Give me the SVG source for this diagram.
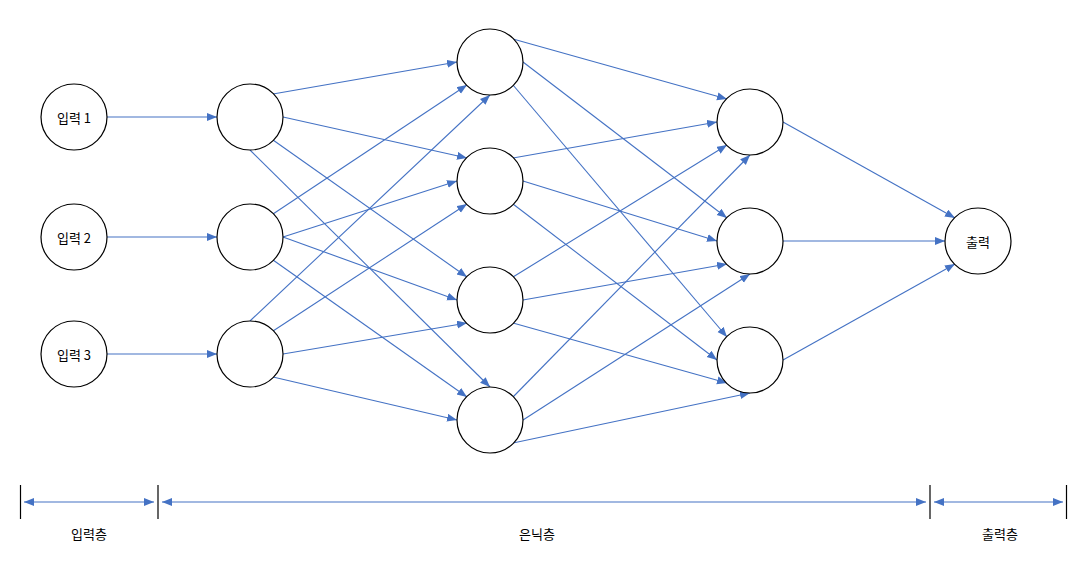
<svg xmlns="http://www.w3.org/2000/svg" width="1076" height="564" viewBox="0 0 1076 564">
<style>
.n{fill:#fff;stroke:#000;stroke-width:1.2}
.e{stroke:#4472C4;stroke-width:1.1;fill:none;marker-end:url(#ah)}
.b{stroke:#4472C4;stroke-width:1.1;fill:none;marker-end:url(#ah);marker-start:url(#ahs)}
.t{stroke:#000;stroke-width:1.2}
text{font-family:"Noto Sans CJK KR","Noto Sans",sans-serif;font-size:13px;fill:#000;text-anchor:middle;dominant-baseline:central}
</style>
<defs>
<marker id="ah" markerUnits="userSpaceOnUse" markerWidth="11" markerHeight="9" refX="10" refY="4" orient="auto"><path d="M0,0 L10,4 L0,8 z" fill="#4472C4"/></marker>
<marker id="ahs" markerUnits="userSpaceOnUse" markerWidth="11" markerHeight="9" refX="10" refY="4" orient="auto-start-reverse"><path d="M0,0 L10,4 L0,8 z" fill="#4472C4"/></marker>
</defs>
<rect width="1076" height="564" fill="#fff"/>
<g id="connectors">
<line class="e" x1="107" y1="117" x2="217" y2="117"/>
<line class="e" x1="107" y1="237" x2="217" y2="237"/>
<line class="e" x1="107" y1="354" x2="217" y2="354"/>
<line class="e" x1="273" y1="94" x2="457" y2="62"/>
<line class="e" x1="283" y1="117" x2="467" y2="158"/>
<line class="e" x1="273" y1="140" x2="467" y2="277"/>
<line class="e" x1="250" y1="150" x2="490" y2="387"/>
<line class="e" x1="273" y1="214" x2="467" y2="85"/>
<line class="e" x1="283" y1="237" x2="457" y2="181"/>
<line class="e" x1="283" y1="237" x2="457" y2="300"/>
<line class="e" x1="273" y1="260" x2="467" y2="397"/>
<line class="e" x1="250" y1="321" x2="490" y2="95"/>
<line class="e" x1="273" y1="331" x2="467" y2="204"/>
<line class="e" x1="283" y1="354" x2="467" y2="323"/>
<line class="e" x1="273" y1="377" x2="457" y2="420"/>
<line class="e" x1="513" y1="39" x2="727" y2="99"/>
<line class="e" x1="523" y1="62" x2="727" y2="218"/>
<line class="e" x1="513" y1="85" x2="727" y2="337"/>
<line class="e" x1="513" y1="158" x2="717" y2="122"/>
<line class="e" x1="523" y1="181" x2="717" y2="241"/>
<line class="e" x1="513" y1="204" x2="717" y2="360"/>
<line class="e" x1="513" y1="277" x2="727" y2="145"/>
<line class="e" x1="523" y1="300" x2="727" y2="264"/>
<line class="e" x1="513" y1="323" x2="727" y2="383"/>
<line class="e" x1="513" y1="397" x2="750" y2="155"/>
<line class="e" x1="523" y1="420" x2="750" y2="274"/>
<line class="e" x1="513" y1="443" x2="750" y2="393"/>
<line class="e" x1="783" y1="122" x2="955" y2="218"/>
<line class="e" x1="783" y1="241" x2="945" y2="241"/>
<line class="e" x1="783" y1="360" x2="955" y2="264"/>
</g>
<g id="scale">
<line class="t" x1="20.5" y1="485" x2="20.5" y2="519"/>
<line class="t" x1="158" y1="485" x2="158" y2="519"/>
<line class="t" x1="930" y1="485" x2="930" y2="519"/>
<line class="t" x1="1066.5" y1="485" x2="1066.5" y2="519"/>
<line class="b" x1="24" y1="502" x2="154" y2="502"/>
<line class="b" x1="162" y1="502" x2="926" y2="502"/>
<line class="b" x1="934" y1="502" x2="1063" y2="502"/>
<text x="89" y="533">입력층</text>
<text x="537" y="533">은닉층</text>
<text x="1000" y="533">출력층</text>
</g>
<g id="in1"><circle class="n" cx="74" cy="117" r="33"/><text x="74" y="117">입력 1</text></g>
<g id="in2"><circle class="n" cx="74" cy="237" r="33"/><text x="74" y="237">입력 2</text></g>
<g id="in3"><circle class="n" cx="74" cy="354" r="33"/><text x="74" y="354">입력 3</text></g>
<g id="h1a"><circle class="n" cx="250" cy="117" r="33"/></g>
<g id="h1b"><circle class="n" cx="250" cy="237" r="33"/></g>
<g id="h1c"><circle class="n" cx="250" cy="354" r="33"/></g>
<g id="h2a"><circle class="n" cx="490" cy="62" r="33"/></g>
<g id="h2b"><circle class="n" cx="490" cy="181" r="33"/></g>
<g id="h2c"><circle class="n" cx="490" cy="300" r="33"/></g>
<g id="h2d"><circle class="n" cx="490" cy="420" r="33"/></g>
<g id="h3a"><circle class="n" cx="750" cy="122" r="33"/></g>
<g id="h3b"><circle class="n" cx="750" cy="241" r="33"/></g>
<g id="h3c"><circle class="n" cx="750" cy="360" r="33"/></g>
<g id="out"><circle class="n" cx="978" cy="241" r="33"/><text x="978" y="241">출력</text></g>
</svg>
